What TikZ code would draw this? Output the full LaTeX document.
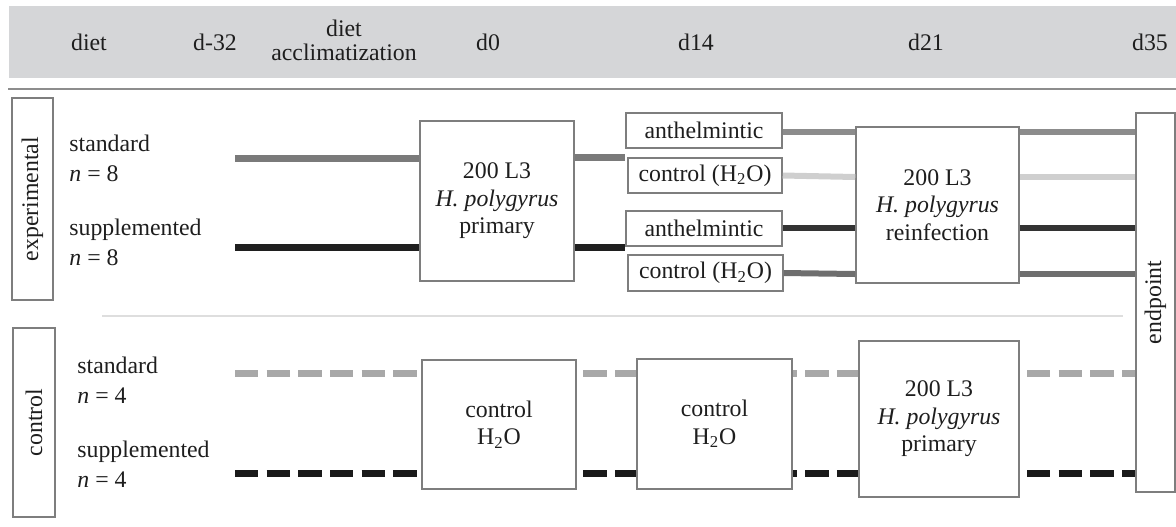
\documentclass[tikz,border=0pt]{standalone}
\usepackage{fontspec}
\setmainfont{Liberation Serif}
\usetikzlibrary{backgrounds,calc}
\definecolor{bandgray}{HTML}{D5D6D8}
\definecolor{rulegray}{HTML}{8D8D8D}
\definecolor{boxgray}{HTML}{7E7E7E}
\definecolor{sepgray}{HTML}{DEDEDE}
\definecolor{txt}{HTML}{1E1E1E}
\definecolor{cstd}{HTML}{7A7A7A}
\definecolor{csup}{HTML}{1F1F1F}
\definecolor{cA}{HTML}{8C8C8C}
\definecolor{cB}{HTML}{CFCFCF}
\definecolor{cC}{HTML}{333333}
\definecolor{cD}{HTML}{6E6E6E}
\definecolor{cdg}{HTML}{A8A8A8}
\definecolor{cdk}{HTML}{1A1A1A}
\begin{document}
\begin{tikzpicture}[x=0.5pt,y=-0.5pt,
  every node/.style={text=txt,font=\fontsize{11.9}{13.75}\selectfont},
  box/.style={draw=boxgray,line width=0.75pt,fill=white,inner sep=0pt,align=center},
  hdr/.style={font=\fontsize{11.9}{12}\selectfont,align=center},
  lab/.style={anchor=west,align=left,inner sep=0pt,font=\fontsize{11.9}{15}\selectfont},
  mainline/.style={line width=3.5pt},
  branch/.style={line width=3pt},
  dline/.style={line width=3.5pt,dash pattern=on 11.67pt off 4.17pt}]
\useasboundingbox (0,0) rectangle (1176,526);
% header
\fill[bandgray] (9,6) rectangle (1176,78);
\draw[rulegray,line width=1.3pt] (8,89) -- (1176,89);
\node[hdr] (hdiet) at (89,42) {diet};
\node[hdr] (hd32) at (215,42) {d-32};
\node[hdr] (hacc) at (344,40) {diet\\acclimatization};
\node[hdr] (hd0) at (488,42) {d0};
\node[hdr] (hd14) at (696,42) {d14};
\node[hdr] (hd21) at (926,42) {d21};
\node[hdr] (hd35) at (1150,42) {d35};
% experimental group
\node[box,rotate=90,minimum width=101pt,minimum height=20.5pt] (exp) at (32.5,199) {experimental};
\node[lab] (st1) at (69,158) {standard\\\textit{n} = 8};
\node[lab] (su1) at (69,242) {supplemented\\\textit{n} = 8};
\node[box,minimum width=77pt,minimum height=80pt] (prim) at (497,201) {200 L3\\\textit{H. polygyrus}\\primary};
\node[box,minimum width=78pt,minimum height=17.5pt] (anth1) at (704,130.5) {anthelmintic};
\node[box,minimum width=77pt,minimum height=17.5pt] (ctrl1) at (705,175.5) {control (H\textsubscript{2}O)};
\node[box,minimum width=78pt,minimum height=17.5pt] (anth2) at (704,228.5) {anthelmintic};
\node[box,minimum width=77.5pt,minimum height=18pt] (ctrl2) at (705.5,273) {control (H\textsubscript{2}O)};
\node[box,minimum width=81.5pt,minimum height=78pt] (reinf) at (937.5,205) {200 L3\\\textit{H. polygyrus}\\reinfection};
\node[box,rotate=90,minimum width=189.5pt,minimum height=19.5pt] (endp) at (1155.5,302.5) {endpoint};
% control group
\node[box,rotate=90,minimum width=94.5pt,minimum height=21pt] (ctl) at (34,422.5) {control};
\node[lab] (st2) at (77,380) {standard\\\textit{n} = 4};
\node[lab] (su2) at (77,464) {supplemented\\\textit{n} = 4};
\node[box,minimum width=77pt,minimum height=64.5pt] (c0) at (499,424.5) {control\\H\textsubscript{2}O};
\node[box,minimum width=77.5pt,minimum height=65pt] (c14) at (714.5,424) {control\\H\textsubscript{2}O};
\node[box,minimum width=80pt,minimum height=78pt] (prim2) at (939,419) {200 L3\\\textit{H. polygyrus}\\primary};
% coordinates
\coordinate (s1) at (235,158);
\coordinate (s2) at (235,247);
\coordinate (r1) at (0,132);
\coordinate (r2) at (0,177);
\coordinate (r3) at (0,228);
\coordinate (r4) at (0,274);
\coordinate (g1) at (235,373);
\coordinate (g2) at (235,473);
\begin{scope}[on background layer]
\draw[sepgray,line width=1pt] (102,316) -- (1123,316);
\draw[dline,cdg] (g1) -- (g1 -| endp.north);
\draw[dline,cdk] (g2) -- (g2 -| endp.north);
\end{scope}
% experimental connectors
\draw[mainline,cstd] (s1) -- (s1 -| prim.west);
\draw[mainline,csup] (s2) -- (s2 -| prim.west);
\draw[mainline,cstd] ($(s1 -| prim.east)+(0,-1)$) -- ($(s1 -| anth1.west)+(0,-1)$);
\draw[mainline,csup] (s2 -| prim.east) -- (s2 -| anth2.west);
\draw[branch,cA] (r1 -| anth1.east) -- (r1 -| reinf.west);
\draw[branch,cB] (ctrl1.east) -- (r2 -| reinf.west);
\draw[branch,cC] (r3 -| anth2.east) -- (r3 -| reinf.west);
\draw[branch,cD] (ctrl2.east) -- (r4 -| reinf.west);
\draw[branch,cA] (r1 -| reinf.east) -- (r1 -| endp.north);
\draw[branch,cB] (r2 -| reinf.east) -- (r2 -| endp.north);
\draw[branch,cC] (r3 -| reinf.east) -- (r3 -| endp.north);
\draw[branch,cD] (r4 -| reinf.east) -- (r4 -| endp.north);
\end{tikzpicture}
\end{document}
